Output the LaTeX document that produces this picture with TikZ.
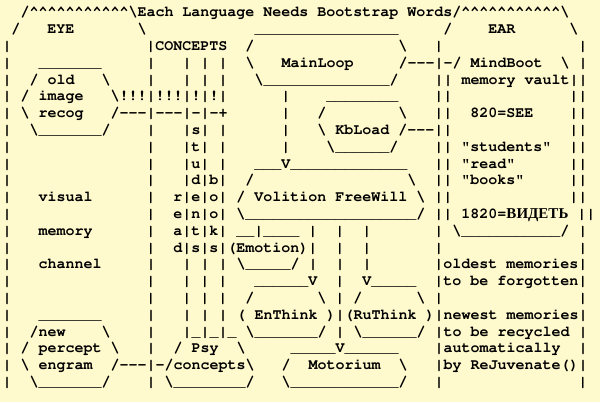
\documentclass[tikz,border=0pt]{standalone}
\usepackage[T1]{fontenc}
\usepackage{fontspec}
\newfontfamily\cyrserif{Liberation Serif}
\definecolor{paper}{RGB}{255,250,205}
\newcommand\artfont{\fontencoding{T1}\fontfamily{pcr}\fontseries{b}\fontshape{n}\fontsize{15}{17}\selectfont}
\newcommand\cyrword[1]{{\cyrserif\bfseries\fontsize{15}{17}\selectfont #1}}
% The rows of the drawing are stored verbatim: spaces are fixed-width,
% backslash, caret and underscore are printed as themselves, and every
% hyphen is followed by a zero kern so that "---" stays three hyphens.
\begingroup
\catcode`\^=12
\catcode`\_=12
\catcode`\@=0
@catcode`@\=12
@catcode`@ =13%
@catcode`@-=13%
@gdef {@ }%
@gdef-{@string-@kern0pt@relax}%
@gdef@artA{  /^^^^^^^^^^^\Each Language Needs Bootstrap Words/^^^^^^^^^^^\}%
@gdef@artB{ /   EYE       \            ________________     /    EAR      \}%
@gdef@artC{|               |CONCEPTS  /                \   |               |}%
@gdef@artD{|   _______     |   | | |  \   MainLoop     /---|-/ MindBoot  \ |}%
@gdef@artE{|  / old   \    |   | | |   \______________/    || memory vault||}%
@gdef@artF{| / image   \!!!|!!!|!|!|      |    ________    ||             ||}%
@gdef@artG{| \ recog   /---|---|-|-+      |   /        \   ||  820=SEE    ||}%
@gdef@artH{|  \_______/    |   |s| |      |   \ KbLoad /---||             ||}%
@gdef@artI{|               |   |t| |      |    \______/    || "students"  ||}%
@gdef@artJ{|               |   |u| |   ___V_____________   || "read"      ||}%
@gdef@artK{|               |   |d|b|  /                 \  || "books"     ||}%
@gdef@artL{|   visual      |  r|e|o| / Volition FreeWill \ ||             ||}%
@gdef@artM{|               |  e|n|o| \___________________/ || 1820=@cyrword{ВИДЕТЬ} ||}%
@gdef@artN{|   memory      |  a|t|k| __|____ |  |  |       | \___________/ |}%
@gdef@artO{|               |  d|s|s|(Emotion)|  |  |       |               |}%
@gdef@artP{|   channel     |   | | | \_____/ |  |  |       |oldest memories|}%
@gdef@artQ{|               |   | | |   ______V  |  V_____  |to be forgotten|}%
@gdef@artR{|               |   | | |  /       \ | /      \ |               |}%
@gdef@artS{|   _______     |   | | | ( EnThink )|(RuThink )|newest memories|}%
@gdef@artT{|  /new    \    |   |_|_|_ \_______/ | \______/ |to be recycled |}%
@gdef@artU{| / percept \   |  / Psy  \     _____V______    |automatically  |}%
@gdef@artV{| \ engram  /---|-/concepts\   /  Motorium  \   |by ReJuvenate()|}%
@gdef@artW{|  \_______/    | \________/   \____________/   |               |}%
@endgroup
\tikzset{
  artline/.style={anchor=base west, inner sep=0pt, outer sep=0pt,
    font=\artfont, text=black}
}
\begin{document}
\begin{tikzpicture}[x=1pt,y=1pt]
  \useasboundingbox (0,0) rectangle (600,402);
  \fill[paper] (0,0) rectangle (600,402);
  \foreach \i/\m in {1/A,2/B,3/C,4/D,5/E,6/F,7/G,8/H,9/I,10/J,11/K,12/L,
                     13/M,14/N,15/O,16/P,17/Q,18/R,19/S,20/T,21/U,22/V,23/W}
    \node[artline] (line\i) at (2.5,{385-16.8*(\i-1)}) {\csname art\m\endcsname};
\end{tikzpicture}
\end{document}
